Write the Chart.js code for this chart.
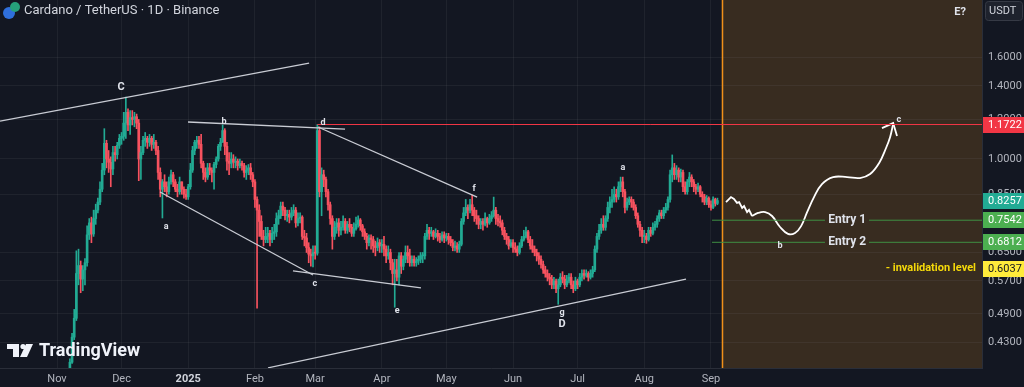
<!DOCTYPE html>
<html>
<head>
<meta charset="utf-8">
<script src="https://cdn.jsdelivr.net/npm/chart.js@4.4.0/dist/chart.umd.min.js"></script>
<style>
  html, body { margin: 0; padding: 0; background: #131722; }
</style>
</head>
<body>
<canvas id="chart" width="1024" height="387"></canvas>
<script>
// ADA/USDT 1D, x = days since 1 Nov 2024. first candle is day 4, open = previous close
const firstDay = 4;
const firstOpen = 0.322;

const closes = [
  // Nov
  0.338,0.366,0.392,0.440,0.480,0.590,0.612,0.575,0.600,0.620,0.705,0.745,0.708,0.760,0.790,0.820,0.870,0.950,1.075,1.000,0.985,0.955,1.030,1.020,1.065,1.100,
  // Dec
  1.110,1.180,1.240,1.170,1.210,1.200,1.215,1.180,1.000,1.030,1.090,1.100,1.080,1.100,1.070,1.080,1.040,0.940,0.870,0.900,0.880,0.860,0.900,0.930,0.900,0.870,0.860,0.900,0.870,0.850,0.840,
  // Jan
  0.880,0.950,1.040,1.080,1.090,1.070,0.980,0.940,0.920,0.960,0.950,0.940,0.975,1.000,1.060,1.080,1.140,1.060,0.990,0.980,1.000,0.985,0.990,0.970,0.980,0.970,0.940,0.950,0.960,0.930,0.900,
  // Feb
  0.830,0.790,0.750,0.700,0.690,0.700,0.710,0.690,0.710,0.715,0.760,0.770,0.805,0.790,0.770,0.775,0.765,0.780,0.790,0.745,0.760,0.765,0.700,0.695,0.665,0.645,0.640,0.650,
  // Mar
  0.648,1.140,0.860,0.930,0.910,0.860,0.810,0.760,0.700,0.730,0.745,0.720,0.730,0.750,0.720,0.740,0.730,0.710,0.725,0.740,0.755,0.735,0.715,0.700,0.680,0.695,0.690,0.670,0.665,0.680,0.670,
  // Apr
  0.675,0.660,0.640,0.650,0.620,0.590,0.600,0.580,0.640,0.610,0.630,0.650,0.640,0.620,0.630,0.620,0.625,0.630,0.640,0.640,0.700,0.720,0.710,0.715,0.700,0.710,0.700,0.690,0.705,0.695,
  // May
  0.700,0.690,0.680,0.665,0.670,0.660,0.675,0.750,0.780,0.800,0.790,0.810,0.790,0.770,0.760,0.740,0.750,0.740,0.760,0.745,0.760,0.770,0.790,0.760,0.750,0.745,0.720,0.700,0.690,0.670,0.680,
  // Jun
  0.665,0.660,0.650,0.670,0.690,0.700,0.715,0.690,0.670,0.660,0.650,0.640,0.630,0.615,0.600,0.590,0.580,0.575,0.560,0.570,0.550,0.560,0.580,0.575,0.560,0.570,0.580,0.560,0.550,0.570,
  // Jul
  0.560,0.580,0.590,0.585,0.590,0.580,0.590,0.600,0.660,0.700,0.720,0.740,0.730,0.760,0.800,0.820,0.830,0.850,0.840,0.880,0.900,0.860,0.800,0.820,0.830,0.820,0.800,0.770,0.740,0.720,0.700,
  // Aug
  0.700,0.690,0.720,0.710,0.730,0.740,0.760,0.780,0.770,0.790,0.800,0.830,0.930,0.960,0.930,0.950,0.920,0.940,0.880,0.860,0.900,0.920,0.900,0.880,0.870,0.880,0.850,0.840,0.820,0.835,0.810,
  // Sep
  0.800,0.830,0.815,0.8257
];

const highs = [
  0.345,0.372,0.398,0.448,0.500,0.655,0.660,0.625,0.612,0.632,0.735,0.760,0.765,0.790,0.812,0.835,0.900,0.980,1.150,1.090,1.040,1.010,1.060,1.060,1.080,1.120,
  1.130,1.240,1.330,1.260,1.250,1.250,1.240,1.230,1.200,1.060,1.110,1.130,1.110,1.120,1.110,1.120,1.090,1.060,0.960,0.910,0.930,0.900,0.920,0.950,0.940,0.910,0.890,0.920,0.900,0.880,0.870,
  0.890,0.980,1.060,1.090,1.110,1.110,1.120,0.990,0.960,0.980,0.980,0.960,0.985,1.010,1.070,1.100,1.170,1.150,1.080,1.030,1.030,1.020,1.010,1.000,1.000,0.990,0.980,0.970,0.975,0.980,0.940,
  0.910,0.840,0.810,0.770,0.720,0.730,0.730,0.720,0.730,0.740,0.780,0.790,0.820,0.820,0.800,0.790,0.790,0.800,0.810,0.800,0.780,0.780,0.770,0.720,0.710,0.680,0.660,0.670,
  0.670,1.172,1.160,0.960,0.950,0.920,0.870,0.820,0.770,0.750,0.760,0.760,0.750,0.770,0.760,0.750,0.760,0.740,0.745,0.765,0.770,0.760,0.740,0.725,0.710,0.705,0.705,0.700,0.685,0.695,0.690,
  0.690,0.700,0.670,0.670,0.660,0.630,0.630,0.630,0.650,0.650,0.640,0.670,0.670,0.660,0.640,0.640,0.635,0.640,0.650,0.650,0.710,0.740,0.730,0.730,0.720,0.725,0.720,0.710,0.715,0.715,
  0.710,0.710,0.700,0.690,0.685,0.680,0.685,0.760,0.800,0.830,0.810,0.830,0.847,0.800,0.790,0.770,0.760,0.760,0.780,0.765,0.775,0.785,0.839,0.800,0.775,0.770,0.755,0.730,0.710,0.700,0.690,
  0.690,0.680,0.670,0.680,0.700,0.720,0.731,0.720,0.700,0.690,0.670,0.660,0.650,0.640,0.625,0.610,0.600,0.590,0.585,0.580,0.575,0.575,0.590,0.595,0.585,0.585,0.590,0.590,0.570,0.580,
  0.575,0.590,0.600,0.600,0.600,0.595,0.600,0.610,0.670,0.710,0.740,0.760,0.770,0.770,0.820,0.840,0.870,0.880,0.870,0.900,0.920,0.920,0.870,0.835,0.840,0.840,0.830,0.810,0.780,0.750,0.730,
  0.720,0.710,0.730,0.730,0.745,0.750,0.770,0.790,0.790,0.800,0.815,0.840,0.950,1.019,0.980,0.970,0.960,0.955,0.950,0.900,0.910,0.940,0.930,0.910,0.890,0.895,0.885,0.860,0.850,0.845,0.840,
  0.825,0.840,0.835,0.835
];

const lows = [
  0.318,0.335,0.360,0.390,0.435,0.475,0.560,0.540,0.545,0.560,0.610,0.690,0.680,0.700,0.740,0.780,0.810,0.860,0.930,0.960,0.940,0.880,0.930,0.990,1.000,1.050,
  1.070,1.090,1.100,1.140,1.120,1.170,1.160,1.150,0.905,0.910,1.020,1.060,1.050,1.060,1.040,1.050,1.020,0.910,0.840,0.762,0.860,0.840,0.850,0.890,0.880,0.860,0.840,0.850,0.850,0.835,0.830,
  0.830,0.870,0.940,1.020,1.050,1.050,0.960,0.910,0.900,0.910,0.930,0.900,0.870,0.960,0.990,1.040,1.080,1.020,0.950,0.930,0.960,0.960,0.960,0.950,0.960,0.950,0.920,0.910,0.930,0.910,0.880,
  0.800,0.503,0.700,0.690,0.670,0.680,0.680,0.670,0.680,0.690,0.700,0.740,0.760,0.770,0.755,0.750,0.745,0.755,0.770,0.730,0.735,0.745,0.690,0.670,0.650,0.620,0.610,0.608,
  0.630,0.642,0.840,0.770,0.880,0.840,0.790,0.740,0.660,0.690,0.710,0.700,0.705,0.720,0.710,0.710,0.715,0.700,0.700,0.720,0.730,0.720,0.700,0.690,0.660,0.670,0.660,0.650,0.640,0.655,0.650,
  0.650,0.640,0.620,0.630,0.600,0.560,0.505,0.570,0.560,0.590,0.600,0.620,0.620,0.610,0.610,0.610,0.610,0.615,0.620,0.620,0.630,0.690,0.690,0.700,0.690,0.695,0.685,0.680,0.685,0.680,
  0.685,0.675,0.670,0.655,0.655,0.650,0.650,0.670,0.740,0.770,0.760,0.780,0.770,0.750,0.740,0.725,0.725,0.720,0.735,0.730,0.740,0.750,0.765,0.740,0.735,0.730,0.705,0.690,0.675,0.660,0.665,
  0.650,0.650,0.640,0.645,0.665,0.685,0.695,0.680,0.660,0.650,0.640,0.625,0.615,0.605,0.590,0.580,0.570,0.560,0.550,0.550,0.540,0.512,0.555,0.565,0.550,0.555,0.565,0.550,0.540,0.545,
  0.550,0.555,0.570,0.575,0.580,0.570,0.575,0.580,0.595,0.650,0.690,0.710,0.720,0.720,0.750,0.780,0.800,0.820,0.820,0.830,0.860,0.840,0.780,0.790,0.810,0.800,0.790,0.760,0.730,0.700,0.680,
  0.680,0.678,0.685,0.700,0.705,0.720,0.730,0.750,0.760,0.760,0.780,0.790,0.820,0.900,0.910,0.910,0.900,0.900,0.860,0.850,0.850,0.880,0.880,0.860,0.850,0.860,0.840,0.820,0.810,0.810,0.800,
  0.790,0.795,0.805,0.810
];

const monthTicks = [0, 30, 61, 92, 120, 151, 181, 212, 242, 273, 304];
const monthLabels = ['Nov', 'Dec', '2025', 'Feb', 'Mar', 'Apr', 'May', 'Jun', 'Jul', 'Aug', 'Sep'];
const priceTicks = [0.43, 0.49, 0.57, 0.65, 0.85, 1.0, 1.2, 1.4, 1.6];

// drawn levels
const resistance = 1.1722;
const entry1 = 0.7542;
const entry2 = 0.6812;
const invalidation = 0.6037;
const lastPrice = 0.8257;
const forecastStart = 309;

// trend lines drawn on the chart, [day, price] pairs
const trendLines = [
  [[-26.5, 1.191], [117.2, 1.556]],
  [[60.9, 1.186], [133.9, 1.148]],
  [[47.9, 0.859], [119.0, 0.586]],
  [[109.7, 0.597], [169.2, 0.552]],
  [[121.3, 1.159], [195.3, 0.839]],
  [[98.1, 0.382], [292.4, 0.575]]
];
const pathZigzag = [
  [311.0, 0.820], [313.3, 0.839], [314.7, 0.832], [316.1, 0.817], [317.1, 0.820], [318.5, 0.798],
  [319.4, 0.805], [320.8, 0.783], [321.7, 0.791], [323.1, 0.769]
];
const pathCurve = [
  [323.1, 0.769], [325.9, 0.780], [329.2, 0.783], [332.4, 0.769], [336.1, 0.731], [339.8, 0.708],
  [343.1, 0.711], [345.9, 0.734], [348.7, 0.783], [351.9, 0.839], [355.6, 0.891], [360.8, 0.920],
  [367.3, 0.920], [373.3, 0.916], [378.0, 0.933], [382.2, 0.982], [385.4, 1.052], [387.3, 1.107], [388.7, 1.175]
];
const arrowHead = [[383.5, 1.153], [388.7, 1.18], [390.5, 1.112]];

const waveLabels = [
  ['C', 29.8, 1.39], ['b', 77.6, 1.19], ['d', 123.7, 1.18], ['a', 50.7, 0.731],
  ['c', 119.9, 0.562], ['e', 158.1, 0.496], ['f', 193.9, 0.871], ['a', 263.1, 0.959],
  ['g', 234.8, 0.492], ['D', 234.8, 0.468], ['b', 336.1, 0.670], ['c', 391.4, 1.197], ['E?', 419.8, 1.968]
];

const upColor = '#22ab94';
const downColor = '#f7525f';

const days = closes.map((c, i) => firstDay + i);
const opens = closes.map((c, i) => (i === 0 ? firstOpen : closes[i - 1]));
const candleColors = closes.map((c, i) => (c >= opens[i] ? upColor : downColor));

function lineSet(points, color, width, tension) {
  return {
    type: 'line',
    data: points.map(p => ({ x: p[0], y: p[1] })),
    borderColor: color,
    borderWidth: width,
    pointRadius: 0,
    tension: tension || 0,
    fill: false,
    order: 0
  };
}

const datasets = [
  {
    type: 'bar',
    data: days.map((d, i) => ({ x: d, y: [lows[i], highs[i]] })),
    backgroundColor: candleColors,
    barThickness: 1,
    grouped: false,
    order: 3
  },
  {
    type: 'bar',
    data: days.map((d, i) => ({ x: d, y: [opens[i], closes[i]] })),
    backgroundColor: candleColors,
    barThickness: 2,
    minBarLength: 1,
    grouped: false,
    order: 2
  },
  lineSet([[121, resistance], [440, resistance]], '#f23645', 1),
  lineSet([[304.5, entry1], [357, entry1]], '#3f8f43', 1),
  lineSet([[377.5, entry1], [440, entry1]], '#3f8f43', 1),
  lineSet([[304.5, entry2], [357, entry2]], '#3f8f43', 1),
  lineSet([[377.5, entry2], [440, entry2]], '#3f8f43', 1),
  lineSet(pathZigzag, '#ffffff', 1.8),
  lineSet(pathCurve, '#ffffff', 1.8, 0.4),
  lineSet(arrowHead, '#ffffff', 1.8)
];
trendLines.forEach(l => datasets.push(lineSet(l, '#c9ccd4', 1.3)));

const font = 'Roboto, "Noto Sans", sans-serif';

const decor = {
  id: 'decor',
  beforeDraw(chart) {
    const { ctx, chartArea: a, scales: { x } } = chart;
    ctx.save();
    ctx.fillStyle = '#131722';
    ctx.fillRect(0, 0, chart.width, chart.height);
    const zx = x.getPixelForValue(forecastStart);
    ctx.fillStyle = '#382c20';
    ctx.fillRect(zx, a.top, a.right - zx, a.bottom - a.top);
    ctx.restore();
  },
  beforeDatasetsDraw(chart) {
    const { ctx, chartArea: a, scales: { x } } = chart;
    const zx = Math.round(x.getPixelForValue(forecastStart)) + 0.5;
    ctx.save();
    ctx.strokeStyle = '#f0901a';
    ctx.lineWidth = 1.5;
    ctx.beginPath();
    ctx.moveTo(zx, a.top);
    ctx.lineTo(zx, a.bottom);
    ctx.stroke();
    ctx.restore();
  },
  afterDraw(chart) {
    const { ctx, chartArea: a, scales: { x, y } } = chart;
    ctx.save();
    ctx.textBaseline = 'middle';

    // wave labels
    ctx.textAlign = 'center';
    waveLabels.forEach(([t, d, p]) => {
      const big = t === 'C' || t === 'D' || t === 'E?';
      ctx.font = (big ? 'bold 11px ' : 'bold 9px ') + font;
      ctx.fillStyle = '#e0e3eb';
      ctx.fillText(t, x.getPixelForValue(d), y.getPixelForValue(p));
    });

    // entry texts
    ctx.font = 'bold 12px ' + font;
    ctx.fillStyle = '#e0e3eb';
    ctx.fillText('Entry 1', x.getPixelForValue(367.3), y.getPixelForValue(entry1));
    ctx.fillText('Entry 2', x.getPixelForValue(367.3), y.getPixelForValue(entry2));
    ctx.textAlign = 'right';
    ctx.font = 'bold 11px ' + font;
    ctx.fillStyle = '#f5d90a';
    ctx.fillText('- invalidation level', a.right - 6, y.getPixelForValue(invalidation));

    // price tags on the axis
    const tags = [
      [resistance, '#f23645', '#ffffff'],
      [lastPrice, '#22ab94', '#ffffff'],
      [entry1, '#4caf50', '#ffffff'],
      [entry2, '#4caf50', '#ffffff'],
      [invalidation, '#ffeb3b', '#131722']
    ];
    ctx.textAlign = 'left';
    ctx.font = '11px ' + font;
    tags.forEach(([v, bg, fg]) => {
      const py = Math.round(y.getPixelForValue(v));
      ctx.fillStyle = bg;
      ctx.fillRect(a.right + 1, py - 8, chart.width - a.right - 1, 16);
      ctx.fillStyle = fg;
      ctx.fillText(v.toFixed(4), a.right + 6, py + 0.5);
    });

    // currency box
    ctx.fillStyle = '#1e222d';
    ctx.strokeStyle = '#363a45';
    ctx.lineWidth = 1;
    ctx.beginPath();
    ctx.roundRect(985.5, 1.5, 37, 19, 3);
    ctx.fill();
    ctx.stroke();
    ctx.fillStyle = '#d1d4dc';
    ctx.fillText('USDT', 989, 11.5);

    // title with symbol icon
    ctx.fillStyle = '#2f6fdc';
    ctx.beginPath(); ctx.arc(9, 13, 6, 0, Math.PI * 2); ctx.fill();
    ctx.fillStyle = '#26a17b';
    ctx.beginPath(); ctx.arc(15, 7, 5, 0, Math.PI * 2); ctx.fill();
    ctx.font = '13px ' + font;
    ctx.fillStyle = '#d1d4dc';
    ctx.fillText('Cardano / TetherUS \u00b7 1D \u00b7 Binance', 24, 11);

    // TradingView watermark
    ctx.fillStyle = '#f0f3fa';
    ctx.fillRect(7, 344, 12, 5);
    ctx.fillRect(13, 344, 6, 13);
    ctx.beginPath(); ctx.arc(23, 346.5, 2.6, 0, Math.PI * 2); ctx.fill();
    ctx.beginPath();
    ctx.moveTo(26, 344); ctx.lineTo(33, 344); ctx.lineTo(27, 357); ctx.lineTo(20, 357);
    ctx.closePath(); ctx.fill();
    ctx.font = 'bold 18px ' + font;
    ctx.fillText('TradingView', 39, 351);
    ctx.restore();
  }
};

function noPad(axis) {
  axis.paddingTop = 0;
  axis.paddingBottom = 0;
  axis.paddingLeft = 0;
  axis.paddingRight = 0;
}

new Chart(document.getElementById('chart'), {
  type: 'bar',
  data: { datasets },
  options: {
    responsive: false,
    animation: false,
    layout: { padding: 0 },
    plugins: { legend: { display: false }, tooltip: { enabled: false } },
    scales: {
      x: {
        type: 'linear',
        min: -26.5,
        max: 430,
        offset: false,
        afterBuildTicks: axis => { axis.ticks = monthTicks.map(v => ({ value: v })); },
        afterFit: axis => { axis.height = 19; noPad(axis); },
        grid: { color: 'rgba(120,123,134,0.12)', drawTicks: false, offset: false },
        border: { color: '#2a2e39' },
        ticks: {
          padding: 5,
          maxRotation: 0,
          autoSkip: false,
          color: ctx => (ctx.tick && ctx.tick.value === 61 ? '#d1d4dc' : '#b2b5be'),
          font: ctx => ({ family: font, size: 11, weight: ctx.tick && ctx.tick.value === 61 ? 'bold' : 'normal' }),
          callback: v => monthLabels[monthTicks.indexOf(v)]
        }
      },
      y: {
        type: 'logarithmic',
        position: 'right',
        min: 0.3817,
        max: 2.0807,
        afterBuildTicks: axis => { axis.ticks = priceTicks.map(v => ({ value: v })); },
        afterFit: axis => { axis.width = 42; noPad(axis); },
        grid: { color: 'rgba(120,123,134,0.12)', drawTicks: false },
        border: { color: '#2a2e39' },
        ticks: {
          padding: 6,
          color: '#b2b5be',
          font: { family: font, size: 11 },
          callback: v => Number(v).toFixed(4)
        }
      }
    }
  },
  plugins: [decor]
});
</script>
</body>
</html>
